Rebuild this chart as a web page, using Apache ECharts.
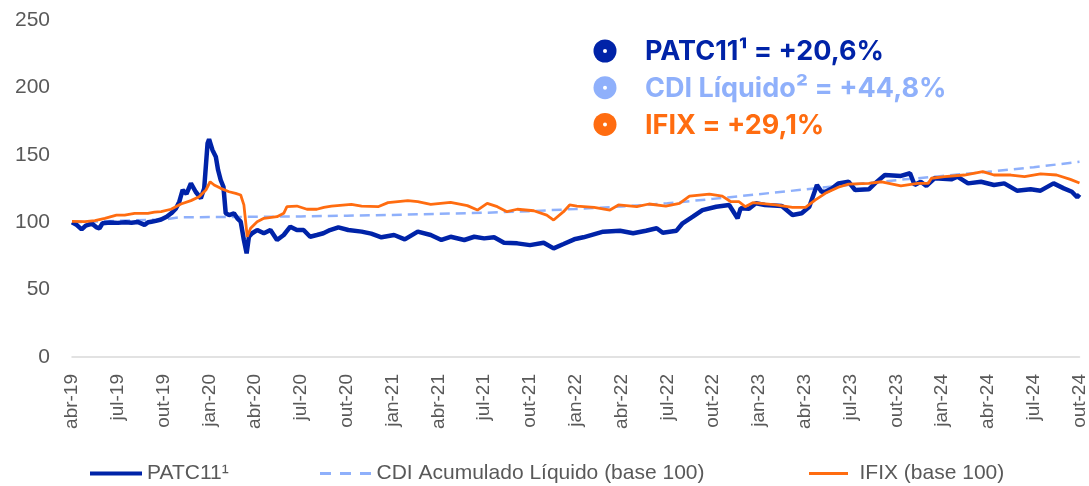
<!DOCTYPE html>
<html>
<head>
<meta charset="utf-8">
<script src="https://cdn.jsdelivr.net/npm/echarts@6/dist/echarts.min.js"></script>
<style>
  html, body { margin: 0; padding: 0; background: #fff; }
  #container { width: 1089px; height: 486px; }
</style>
</head>
<body>
<div id="container"></div>
<script>
// months counted from abr-19 (0) to out-24 (66)
var tickLabels = ['abr-19','jul-19','out-19','jan-20','abr-20','jul-20','out-20','jan-21','abr-21','jul-21','out-21',
    'jan-22','abr-22','jul-22','out-22','jan-23','abr-23','jul-23','out-23','jan-24','abr-24','jul-24','out-24'];

var patc = [[0,100],[0.3,98],[0.63,94.7],[0.9,97.5],[1.06,98],[1.3,99],[1.6,96.2],[1.8,95.5],[2,99.2],[2.5,99.8],
    [3,99.5],[3.5,100],[3.9,99.6],[4.3,100.2],[4.75,98],[5,100],[5.2,100.4],[5.5,101],[5.84,102],[6.2,104],
    [6.5,106.6],[6.8,110],[7.03,115.2],[7.25,123.9],[7.5,121],[7.79,128.8],[8.1,122.6],[8.22,121.4],[8.44,117.7],
    [8.66,125.1],[8.88,158.5],[8.98,161.5],[9.2,153.6],[9.42,148.6],[9.57,138.7],[9.74,131.3],[9.92,126.3],
    [10.07,106.6],[10.29,105.3],[10.61,106.6],[10.83,102.9],[11.05,100.4],[11.26,86.8],[11.44,76.9],[11.59,89.2],
    [11.8,91.8],[12.13,94.2],[12.57,91.8],[13,94.2],[13.43,86.8],[13.87,90.5],[14.3,96.7],[14.73,94.2],[15.17,94.2],
    [15.6,89.2],[16.04,90.5],[16.47,91.8],[16.9,94.2],[17.45,96.2],[18.1,94.2],[18.97,93],[19.6,91.5],[20.27,88.8],
    [21.1,90.5],[21.8,87.3],[22.65,93],[23.5,90.5],[24.2,86.8],[24.8,89.2],[25.7,86.8],[26.35,89.2],[27,88],
    [27.65,88.8],[28.3,84.8],[29.17,84.3],[30,83],[30.9,84.8],[31.55,80.6],[32.2,83.8],[32.9,87.3],[33.5,88.8],
    [34.8,93],[35.9,93.7],[36.76,91.8],[37.6,93.7],[38.3,95.5],[38.7,92.2],[39.6,93.7],[40,99.2],[40.67,104.1],
    [41.3,109],[42.2,111.5],[43.05,112.8],[43.6,102.9],[43.8,110.3],[44.35,110],[44.8,114],[45.4,112.8],[46.5,112],
    [47.2,105.3],[47.8,106.6],[48.3,111.5],[48.8,127.6],[49.1,122.6],[49.35,122.6],[49.8,125.1],[50.2,128.8],
    [50.87,130],[51.3,123.9],[52.2,124.4],[52.6,128.8],[53.25,135],[54.3,134.3],[54.9,136.3],[55.2,127.6],
    [55.6,130],[55.97,126.9],[56.5,132.6],[57.6,131.8],[58,133.8],[58.7,128.8],[59.55,130],[60.4,127.6],
    [61.07,128.8],[61.9,123.4],[62.8,124.4],[63.45,123.4],[64.3,128.8],[64.97,125.1],[65.5,122.6],[65.85,118.5],
    [66,120.6]];

var cdi = [[0,100],[3,101],[6,102],[7,103.6],[9,103.8],[12,104],[15,104.3],[18,104.8],[21,105.4],[24,106.2],
    [27,107],[30,108.2],[33,109.8],[36,111.6],[39,114],[42,117.3],[45,120.8],[48,124.3],[51,127.8],[54,131.2],
    [57,134.3],[60,137.4],[63,140.8],[66,144.8]];

var ifix = [[0,100.6],[0.85,100.4],[1.5,101.1],[2.15,102.9],[2.91,105.3],[3.45,105.3],[4.1,106.6],[4.97,106.6],
    [5.4,107.5],[5.84,107.8],[6.49,109.6],[7.14,113.5],[7.79,116],[8.33,118.9],[8.77,123.9],[9.05,130],[9.31,127.6],
    [9.74,125.1],[10.29,122.6],[10.72,121.4],[11.05,120.2],[11.26,112.8],[11.48,89.2],[11.7,95.5],[12.13,100.4],
    [12.57,102.9],[13.43,104.1],[13.87,106.6],[14.08,111.5],[14.73,112],[15.39,109.6],[16.04,109.6],[16.5,111],
    [17,112],[18.3,113.3],[18.97,112],[20.05,111.5],[20.7,114.5],[22,116],[22.65,115.2],[23.5,113.3],[24.8,114.7],
    [25.9,112.3],[26.56,109],[27.2,114],[27.86,111.5],[28.5,107.8],[29.17,109.6],[30.25,108.5],[31.1,105.3],
    [31.55,101.6],[32.2,107.8],[32.6,112.8],[33.07,112],[34.2,111],[35.24,109],[35.8,112.8],[37,111.5],[37.8,113.5],
    [38.9,112],[39.8,114],[40.45,119.4],[41.75,120.9],[42.6,119.4],[43.16,115.2],[43.7,115.2],[44.1,111.5],
    [44.6,114.5],[46.1,112.8],[47.2,111],[48.05,111],[48.7,116.5],[49.35,121.4],[50.2,125.9],[50.87,128.3],
    [52.2,128.8],[53.04,130],[54.3,126.9],[55.4,128.8],[56.1,128.8],[56.3,132.6],[57.16,133.8],[58.46,135],
    [59.66,137.5],[60.4,135],[61.5,135],[62.4,133.8],[63.45,135.8],[64.5,135],[65.4,131.8],[66,129.1]];

var names = ['PATC11\u00b9', 'CDI Acumulado L\u00edquido (base 100)', 'IFIX (base 100)'];
var colors = ['#0023a8', '#8fb0fb', '#ff6c10'];

function pct(arr) {
    var v = arr[arr.length - 1][1] - 100;
    return '+' + v.toFixed(1).replace('.', ',') + '%';
}
var notes = [
    'PATC11\u00b9 = ' + pct(patc),
    'CDI L\u00edquido\u00b2 = ' + pct(cdi),
    'IFIX = ' + pct(ifix)
];

var dom = document.getElementById('container');
var myChart = echarts.init(dom);

var solidIcon = 'path://M0,0L52,0L52,4L0,4Z';
var dashIcon = 'path://M0,0L11,0L11,3L0,3Z M20,0L31,0L31,3L20,3Z M40,0L51,0L51,3L40,3Z';
var legendText = { color: '#595959', fontSize: 21, fontFamily: 'Liberation Sans, Arial, sans-serif' };
function legendAt(x, name, icon, h) {
    return {
        left: x, top: 463, data: [{ name: name, icon: icon }], itemWidth: 52, itemHeight: h,
        padding: 0, selectedMode: false, textStyle: legendText
    };
}

var noteGraphics = [];
notes.forEach(function (t, i) {
    var cy = 51 + i * 36.7;
    noteGraphics.push({ type: 'circle', shape: { cx: 605, cy: cy, r: 11.5 }, style: { fill: colors[i] } });
    noteGraphics.push({ type: 'circle', shape: { cx: 605, cy: cy, r: 2 }, style: { fill: '#fff' } });
    noteGraphics.push({
        type: 'text', x: 645, y: cy + 1,
        style: { text: t, fill: colors[i], font: 'bold 27px Inter, sans-serif', verticalAlign: 'middle' }
    });
});

option = {
    animation: false,
    grid: { left: 72, right: 3, top: 20, bottom: 129 },
    xAxis: {
        type: 'value', min: 0, max: 66, interval: 3,
        axisLine: { lineStyle: { color: '#d9d9d9', width: 1.5 } },
        axisTick: { show: false },
        splitLine: { show: false },
        axisLabel: {
            rotate: 90, margin: 17, color: '#595959', fontSize: 19,
            fontFamily: 'Liberation Sans, Arial, sans-serif',
            formatter: function (v) { return tickLabels[Math.round(v / 3)]; }
        }
    },
    yAxis: {
        type: 'value', min: 0, max: 250, interval: 50,
        axisLine: { show: false },
        axisTick: { show: false },
        splitLine: { show: false },
        axisLabel: { color: '#595959', fontSize: 21, margin: 22, fontFamily: 'Liberation Sans, Arial, sans-serif' }
    },
    legend: [
        legendAt(90, names[0], solidIcon, 4),
        legendAt(320, names[1], dashIcon, 3),
        legendAt(809, names[2], solidIcon, 3)
    ],
    graphic: noteGraphics,
    series: [
        {
            name: names[1], type: 'line', data: cdi, symbol: 'none', z: 1,
            lineStyle: { color: colors[1], width: 2.5, type: [10, 6] }, itemStyle: { color: colors[1] }
        },
        {
            name: names[0], type: 'line', data: patc, symbol: 'none', z: 2,
            lineStyle: { color: colors[0], width: 4.5 }, itemStyle: { color: colors[0] }
        },
        {
            name: names[2], type: 'line', data: ifix, symbol: 'none', z: 3,
            lineStyle: { color: colors[2], width: 2.8 }, itemStyle: { color: colors[2] }
        }
    ]
};

if (option && typeof option === "object") {
    myChart.setOption(option, true);
}
</script>
</body>
</html>
